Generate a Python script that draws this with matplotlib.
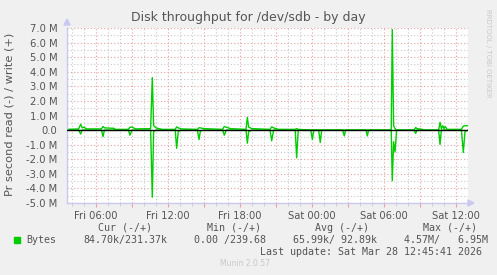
import numpy as np
import matplotlib.pyplot as plt
from matplotlib.ticker import MultipleLocator, FuncFormatter

# hours since Fri 00:00, 5-minute samples around the bursts
hours = [3.58, 4.55, 4.72, 4.85, 5.0, 5.2, 6.45, 6.58, 6.7, 7.5, 7.6,
         8.7, 8.83, 9.0, 9.3, 10.55, 10.69, 10.8, 11.0, 11.5,
         12.6, 12.72, 12.85, 13.1, 14.45, 14.58, 14.7, 15.0,
         16.55, 16.69, 16.85, 17.2, 18.5, 18.61, 18.72, 19.0,
         20.5, 20.64, 20.8, 21.2, 22.6, 22.72, 22.85,
         23.9, 24.03, 24.15, 24.55, 24.69, 24.8,
         26.55, 26.69, 26.8, 28.5, 28.61, 28.72,
         30.6, 30.69, 30.8, 30.92, 31.05, 32.5, 32.64, 32.75, 33.2, 33.3,
         34.55, 34.67, 34.78, 34.9, 35.0, 35.1, 35.25,
         36.45, 36.61, 36.75, 37.0]

# bytes/s written (+), in M
write_m = [0.05, 0.08, 0.40, 0.15, 0.20, 0.08, 0.08, 0.25, 0.15, 0.12, 0.05,
           0.05, 0.20, 0.20, 0.08, 0.10, 3.60, 0.30, 0.15, 0.05,
           0.05, 0.22, 0.15, 0.08, 0.05, 0.16, 0.15, 0.10,
           0.05, 0.25, 0.20, 0.10, 0.05, 0.87, 0.20, 0.10,
           0.05, 0.22, 0.15, 0.05, 0.05, 0.10, 0.05,
           0.0, 0.02, 0.0, 0.0, 0.02, 0.0,
           0.0, 0.0, 0.0, 0.0, 0.0, 0.0,
           0.0, 6.90, 0.30, 0.10, 0.0, 0.0, 0.18, 0.10, 0.05, 0.0,
           0.0, 0.53, 0.10, 0.30, 0.10, 0.25, 0.05,
           0.05, 0.27, 0.30, 0.30]

# bytes/s read (-), in M
read_m = [0.0, 0.0, 0.27, 0.0, 0.0, 0.0, 0.0, 0.45, 0.0, 0.0, 0.0,
          0.0, 0.35, 0.0, 0.0, 0.0, 4.60, 0.10, 0.0, 0.0,
          0.0, 1.25, 0.10, 0.0, 0.0, 0.65, 0.05, 0.0,
          0.0, 0.35, 0.0, 0.0, 0.0, 0.90, 0.10, 0.0,
          0.0, 0.73, 0.0, 0.0, 0.0, 1.90, 0.0,
          0.0, 0.65, 0.0, 0.0, 0.85, 0.0,
          0.0, 0.40, 0.0, 0.0, 0.40, 0.0,
          0.0, 3.47, 0.80, 1.50, 0.0, 0.0, 0.23, 0.0, 0.0, 0.0,
          0.0, 0.98, 0.0, 0.0, 0.0, 0.0, 0.0,
          0.0, 1.53, 0.10, 0.0]

day_labels = {6: "Fri 06:00", 12: "Fri 12:00", 18: "Fri 18:00",
              24: "Sat 00:00", 30: "Sat 06:00", 36: "Sat 12:00"}

bg = "#F0F0F0"
green = "#00CC00"
txt = "#555555"

fig = plt.figure(figsize=(4.97, 2.75), dpi=100, facecolor=bg)
ax = fig.add_axes([67 / 497, 1 - 203 / 275, 401 / 497, 175 / 275])
ax.set_facecolor("white")

h = np.array(hours)
ax.plot(h, write_m, color=green, lw=1.0)
ax.plot(h, -np.array(read_m), color=green, lw=1.0)
ax.axhline(0, color="black", lw=1.0, zorder=3)

ax.set_xlim(3.58, 37.0)
ax.set_ylim(-5.0, 7.0)

ax.xaxis.set_major_locator(MultipleLocator(3))
ax.xaxis.set_minor_locator(MultipleLocator(1))
ax.xaxis.set_major_formatter(FuncFormatter(lambda v, p: day_labels.get(int(round(v)), "")))
ax.yaxis.set_major_locator(MultipleLocator(1))
ax.yaxis.set_minor_locator(MultipleLocator(0.5))
ax.yaxis.set_major_formatter(FuncFormatter(lambda v, p: "0.0" if abs(v) < 1e-9 else f"{v:.1f} M"))

ax.grid(which="major", color="#E8A0A0", linestyle=(0, (1, 2)), lw=0.8)
ax.grid(which="minor", color="#C8C8C8", linestyle=(0, (1, 2)), lw=0.8)
ax.set_axisbelow(True)

for s in ("top", "right"):
    ax.spines[s].set_visible(False)
for s in ("left", "bottom"):
    ax.spines[s].set_color("#C8C8F0")
    ax.spines[s].set_linewidth(1.0)

ax.tick_params(axis="both", which="major", labelsize=7.2, labelcolor=txt, length=3, color="#E8A0A0", pad=3)
ax.tick_params(axis="both", which="minor", length=2, color="#C8C8C8")
ax.tick_params(axis="y", which="both", length=0, pad=7)

# axis arrows
fig.patches.append(plt.Polygon([[64 / 497, 1 - 25 / 275], [70 / 497, 1 - 25 / 275], [67 / 497, 1 - 19 / 275]],
                               closed=True, transform=fig.transFigure, color="#C8C8F0"))
fig.patches.append(plt.Polygon([[468 / 497, 1 - 200 / 275], [468 / 497, 1 - 206 / 275], [474 / 497, 1 - 203 / 275]],
                               closed=True, transform=fig.transFigure, color="#C8C8F0"))

fig.text(248 / 497, 1 - 18 / 275, "Disk throughput for /dev/sdb - by day",
         ha="center", va="center", fontsize=9, color=txt)
fig.text(10 / 497, 1 - 114 / 275, "Pr second read (-) / write (+)",
         rotation=90, ha="center", va="center", fontsize=8.2, color=txt)
fig.text(488 / 497, 1 - 53 / 275, "RRDTOOL / TOBI OETIKER",
         rotation=270, ha="center", va="center", fontsize=5.0, color="#C8C8C8")

mono = dict(family="DejaVu Sans Mono", fontsize=7.2, color=txt, va="center")
fig.text(98 / 497, 1 - 228 / 275, "Cur (-/+)", **mono)
fig.text(207 / 497, 1 - 228 / 275, "Min (-/+)", **mono)
fig.text(315 / 497, 1 - 228 / 275, "Avg (-/+)", **mono)
fig.text(423 / 497, 1 - 228 / 275, "Max (-/+)", **mono)

fig.patches.append(plt.Rectangle((14 / 497, 1 - 243 / 275), 6 / 497, 6 / 275,
                                 transform=fig.transFigure, color=green))
fig.text(26 / 497, 1 - 240 / 275, "Bytes", **mono)
fig.text(83 / 497, 1 - 240 / 275, "84.70k/231.37k", **mono)
fig.text(194 / 497, 1 - 240 / 275, "0.00 /239.68", **mono)
fig.text(293 / 497, 1 - 240 / 275, "65.99k/ 92.89k", **mono)
fig.text(404 / 497, 1 - 240 / 275, "4.57M/   6.95M", **mono)
fig.text(482 / 497, 1 - 252 / 275, "Last update: Sat Mar 28 12:45:41 2026", ha="right", **mono)
fig.text(245 / 497, 1 - 263 / 275, "Munin 2.0.57", ha="center", va="center",
         fontsize=5.5, color="#C8C8C8")

fig.savefig("out.png", dpi=100, facecolor=bg)
